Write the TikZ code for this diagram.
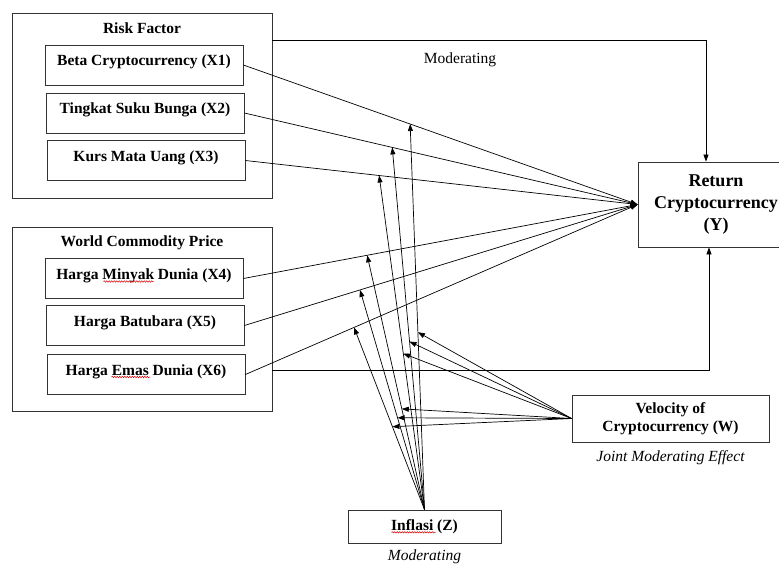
\documentclass[tikz,border=0pt]{standalone}
\usepackage{fontspec}
\setmainfont{Liberation Serif}
\usetikzlibrary{arrows.meta,positioning,calc,decorations.pathmorphing}

\tikzset{
  groupbox/.style={draw=black!80, line width=0.8pt, minimum width=260pt, inner sep=0pt},
  varbox/.style={draw=black!80, line width=0.8pt, minimum width=198pt, inner sep=0pt,
                 text height=20.5pt, text depth=19.5pt,
                 font=\fontsize{15.5}{18}\selectfont\bfseries},
  mainbox/.style={draw=black!80, line width=0.8pt, inner sep=0pt, align=center},
  grouptitle/.style={anchor=base, font=\fontsize{15.5}{18}\selectfont\bfseries},
  link/.style={line width=0.7pt, -{Triangle[length=7pt,width=5pt]}},
  spellmark/.style={red!85!black, line width=0.5pt, decorate,
                    decoration={snake, segment length=2.5pt, amplitude=0.7pt}},
  notetext/.style={inner sep=0pt, font=\fontsize{15.5}{18}\selectfont\itshape}
}

\begin{document}
\begin{tikzpicture}[x=1pt, y=-1pt]
    \useasboundingbox[fill=white] (0,0) rectangle (779,563);

    % risk factor group
    \node[groupbox, minimum height=185pt] (rf) at (142,105.5) {};
    \node[grouptitle] (rftitle) at (142,33.5) {Risk Factor};
    \node[varbox] (x1) at (144,65) {Beta Cryptocurrency (X1)};
    \node[varbox] (x2) at (145,113) {Tingkat Suku Bunga (X2)};
    \node[varbox] (x3) at (146,160.5) {Kurs Mata Uang (X3)};

    % world commodity price group
    \node[groupbox, minimum height=184pt] (wcp) at (142,319) {};
    \node[grouptitle] (wcptitle) at (142,246.7) {World Commodity Price};
    \node[varbox] (x4) at (144,278.5) {Harga Minyak Dunia (X4)};
    \node[varbox] (x5) at (145,325.5) {Harga Batubara (X5)};
    \node[varbox] (x6) at (146,374.5) {Harga Emas Dunia (X6)};

    % dependent and moderators
    \node[mainbox, minimum width=156pt, minimum height=85pt,
          font=\fontsize{18}{22}\selectfont\bfseries] (y) at (716,204.5)
          {Return\\Cryptocurrency\\(Y)};
    \node[mainbox, minimum width=197pt, minimum height=47pt,
          font=\fontsize{15.5}{18}\selectfont\bfseries] (w) at (670.5,418.5)
          {Velocity of\\Cryptocurrency (W)};
    \node[mainbox, minimum width=153pt, minimum height=33pt,
          font=\fontsize{15.5}{18}\selectfont\bfseries] (z) at (424.5,526.5)
          {Inflasi (Z)};
    \node[notetext, below=8pt of w] (wnote) {Joint Moderating Effect};
    \node[notetext, below=6pt of z] (znote) {Moderating};
    \node[anchor=base, font=\fontsize{15.5}{18}\selectfont] (modtxt) at (460,63.3) {Moderating};

    % spelling marks
    \draw[spellmark] ([xshift=-40.5pt,yshift=-2.5pt]x4.base) -- ([xshift=9.5pt,yshift=-2.5pt]x4.base);
    \draw[spellmark] ([xshift=-34.5pt,yshift=-2pt]x6.base) -- ([xshift=4pt,yshift=-2pt]x6.base);
    \draw[spellmark] ([xshift=-33pt,yshift=-2pt]z.base) -- ([xshift=11pt,yshift=-2pt]z.base);

    % direct effects
    \draw[link] (x1.east) -- (y.west);
    \draw[link] (x2.east) -- (y.west);
    \draw[link] (x3.east) -- (y.west);
    \draw[link] (x4.east) -- (y.west);
    \draw[link] (x5.east) -- (y.west);
    \draw[link] (x6.east) -- (y.west);

    % group effects
    \coordinate (modtop) at (706,40.7);
    \coordinate (modbot) at (709,370);
    \draw[link] (rf.east |- modtop) -- (modtop) -- (y.north -| modtop);
    \draw[link] (wcp.east |- modbot) -- (modbot) -- (y.south -| modbot);

    % inflation moderates each path
    \coordinate (m1) at ($(x1.east)!0.423!(y.west)$);
    \coordinate (m2) at ($(x2.east)!0.376!(y.west)$);
    \coordinate (m3) at ($(x3.east)!0.341!(y.west)$);
    \coordinate (m4) at ($(x4.east)!0.314!(y.west)$);
    \coordinate (m5) at ($(x5.east)!0.294!(y.west)$);
    \coordinate (m6) at ($(x6.east)!0.277!(y.west)$);
    \draw[link] (z.north) -- (m1);
    \draw[link] (z.north) -- (m2);
    \draw[link] (z.north) -- (m3);
    \draw[link] (z.north) -- (m4);
    \draw[link] (z.north) -- (m5);
    \draw[link] (z.north) -- (m6);

    % velocity joins the moderation
    \draw[link] (w.west) -- ($(z.north)!0.460!(m1)$);
    \draw[link] (w.west) -- ($(z.north)!0.464!(m2)$);
    \draw[link] (w.west) -- ($(z.north)!0.467!(m3)$);
    \draw[link] (w.west) -- ($(z.north)!0.396!(m4)$);
    \draw[link] (w.west) -- ($(z.north)!0.418!(m5)$);
    \draw[link] (w.west) -- ($(z.north)!0.455!(m6)$);
\end{tikzpicture}
\end{document}
